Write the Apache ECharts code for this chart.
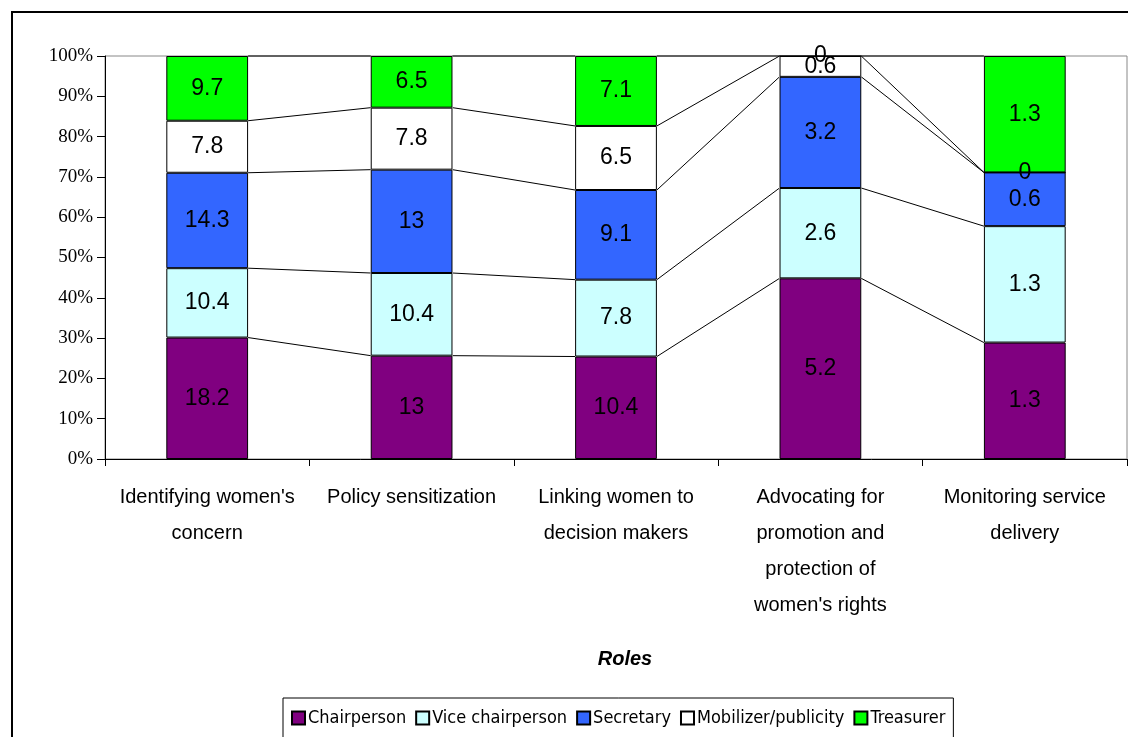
<!DOCTYPE html>
<html>
<head>
<meta charset="utf-8">
<script src="https://cdn.jsdelivr.net/npm/echarts@6/dist/echarts.min.js"></script>
<style>
  html, body { margin: 0; padding: 0; background: #fff; }
  #chart { width: 1128px; height: 737px; }
</style>
</head>
<body>
<div id="chart"></div>
<script>
// Roles of women representatives by activity (counts, drawn as 100% stacked bars)
const categories = [
  "Identifying women's\nconcern",
  "Policy sensitization",
  "Linking women to\ndecision makers",
  "Advocating for\npromotion and\nprotection of\nwomen's rights",
  "Monitoring service\ndelivery"
];
const roleNames = ['Chairperson', 'Vice chairperson', 'Secretary', 'Mobilizer/publicity', 'Treasurer'];
const chairperson     = [18.2, 13, 10.4, 5.2, 1.3];
const viceChairperson = [10.4, 10.4, 7.8, 2.6, 1.3];
const secretary       = [14.3, 13, 9.1, 3.2, 0.6];
const mobilizer       = [7.8, 7.8, 6.5, 0.6, 0];
const treasurer       = [9.7, 6.5, 7.1, 0, 1.3];
const roleColors = ['#800080', '#CCFFFF', '#3366FF', '#FFFFFF', '#00FF00'];

const roleValues = [chairperson, viceChairperson, secretary, mobilizer, treasurer];

// column totals and cumulative percentage tops for each segment
const totals = categories.map((_, i) => roleValues.reduce((s, arr) => s + arr[i], 0));
const cumulative = categories.map((_, i) => {
  let acc = 0;
  return roleValues.map(arr => { acc += arr[i] / totals[i] * 100; return acc; });
});

const BAR_RATIO = 0.4;

const barSeries = roleNames.map((name, k) => ({
  name: name,
  type: 'bar',
  stack: 'share',
  barWidth: (BAR_RATIO * 100) + '%',
  itemStyle: { color: roleColors[k], borderColor: '#000', borderWidth: 1 },
  label: {
    show: true,
    position: 'inside',
    fontFamily: 'Liberation Sans, Arial, sans-serif',
    fontSize: 23,
    color: '#000',
    formatter: p => String(p.data.raw)
  },
  emphasis: { disabled: true },
  data: roleValues[k].map((v, i) => ({ value: v / totals[i] * 100, raw: v }))
}));

// thin connector lines joining each segment top between neighbouring columns
const seriesLines = {
  type: 'custom',
  name: 'connectors',
  silent: true,
  z: 1,
  encode: { x: 0, y: 1 },
  data: categories.slice(0, -1).map((_, i) => [i, 0]),
  renderItem: function (params, api) {
    const i = api.value(0);
    const half = api.size([1, 0])[0] * BAR_RATIO / 2;
    const children = cumulative[i].map((top, k) => {
      const p1 = api.coord([i, top]);
      const p2 = api.coord([i + 1, cumulative[i + 1][k]]);
      return {
        type: 'line',
        shape: { x1: p1[0] + half, y1: p1[1], x2: p2[0] - half, y2: p2[1] },
        style: { stroke: '#000', lineWidth: 1 }
      };
    });
    return { type: 'group', children: children };
  }
};

const chart = echarts.init(document.getElementById('chart'), null, { renderer: 'canvas' });
chart.setOption({
  animation: false,
  backgroundColor: '#fff',
  grid: {
    left: 105, right: 1, top: 56, bottom: 278,
    show: true, borderColor: '#888', borderWidth: 1, backgroundColor: 'transparent'
  },
  title: {
    text: 'Roles',
    left: 620, top: 644,
    textAlign: 'center',
    textStyle: {
      fontFamily: 'Liberation Sans, Arial, sans-serif',
      fontSize: 20, fontWeight: 'bold', fontStyle: 'italic', color: '#000'
    }
  },
  legend: {
    data: roleNames,
    left: 283, top: 698,
    width: 700,
    padding: [11, 8, 30, 8],
    borderColor: '#000', borderWidth: 1,
    itemWidth: 13, itemHeight: 13, itemGap: 9,
    icon: 'rect',
    selectedMode: false,
    textStyle: {
      fontFamily: 'DejaVu Sans Condensed, Liberation Sans Narrow, sans-serif',
      fontSize: 18, color: '#000', padding: [0, 0, 0, -2]
    }
  },
  graphic: [{
    type: 'rect',
    silent: true,
    shape: { x: 12, y: 12, width: 1200, height: 800 },
    style: { fill: 'none', stroke: '#000', lineWidth: 2 },
    z: 100
  }],
  xAxis: {
    type: 'category',
    data: categories,
    axisLine: { lineStyle: { color: '#000', width: 1 } },
    axisTick: { show: true, length: 7, lineStyle: { color: '#000' } },
    axisLabel: {
      interval: 0,
      margin: 20,
      lineHeight: 36,
      fontFamily: 'Liberation Sans, Arial, sans-serif',
      fontSize: 20,
      color: '#000'
    },
    splitLine: { show: false }
  },
  yAxis: {
    type: 'value',
    min: 0, max: 100, interval: 10,
    axisLine: { show: true, lineStyle: { color: '#000', width: 1 } },
    axisTick: { show: true, length: 8, lineStyle: { color: '#000' } },
    axisLabel: {
      formatter: '{value}%',
      margin: 12,
      fontFamily: 'Liberation Serif, Times New Roman, serif',
      fontSize: 19,
      color: '#000'
    },
    splitLine: { show: false }
  },
  series: barSeries.concat([seriesLines])
});
</script>
</body>
</html>
